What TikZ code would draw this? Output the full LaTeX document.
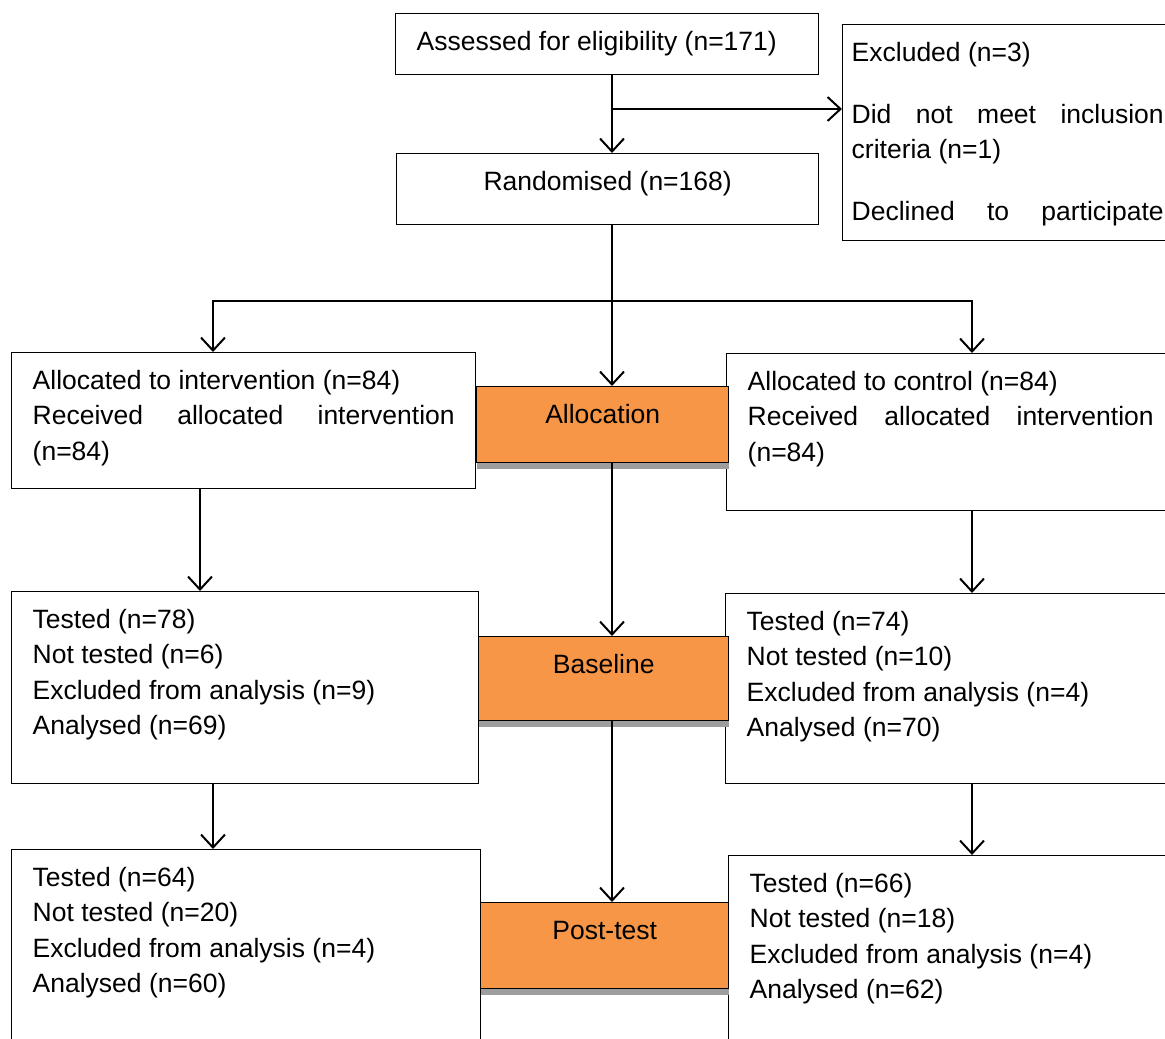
\documentclass[tikz,border=0pt]{standalone}
\usepackage{fontspec}
\setmainfont{Liberation Sans}
\usetikzlibrary{arrows.meta,shadows}
\definecolor{stageorange}{HTML}{F79646}
\newcommand{\boxtxt}[3]{\begin{minipage}[t][#1][t]{#2}\strut#3\end{minipage}}
\newcommand{\spread}[1]{\makebox[\linewidth][s]{#1}}

\begin{document}
\begin{tikzpicture}[x=1pt,y=-1pt,
    font=\fontsize{26.5}{35.3}\selectfont,
    flow/.style={draw, line width=1.4pt, anchor=north west, inner xsep=21pt, inner ysep=12pt, fill=white},
    stage/.style={flow, fill=stageorange, inner xsep=0pt,
      drop shadow={shadow xshift=0pt, shadow yshift=-6pt, fill=black!38, opacity=1}},
    link/.style={line width=2pt, -{Straight Barb[length=13pt,width=24pt]}}]
   \useasboundingbox (0,0) rectangle (1165,1039);
   \clip (0,0) rectangle (1165,1039);

   % top part
   \node[flow] (assess) at (395,13) {\boxtxt{37pt}{381pt}{Assessed for eligibility (n=171)}};
   \node[flow, inner xsep=9pt] (excl) at (842,24) {\boxtxt{192pt}{312pt}{Excluded (n=3)\\[26.7pt]
      \spread{Did not meet inclusion}\\criteria (n=1)\\[26.7pt]\spread{Declined to participate}}};
   \node[flow] (rand) at (396,153) {\boxtxt{47pt}{380pt}{\centering Randomised (n=168)}};

   % intervention side
   \node[flow] (int1) at (11,352) {\boxtxt{112pt}{422pt}{Allocated to intervention (n=84)\\
      \spread{Received allocated intervention}\\(n=84)}};
   \node[flow] (int2) at (11,591) {\boxtxt{168pt}{425pt}{Tested (n=78)\\Not tested (n=6)\\
      Excluded from analysis (n=9)\\Analysed (n=69)}};
   \node[flow] (int3) at (11,849) {\boxtxt{196pt}{427pt}{Tested (n=64)\\Not tested (n=20)\\
      Excluded from analysis (n=4)\\Analysed (n=60)}};

   % control side
   \node[flow] (ctl1) at (726,353) {\boxtxt{133pt}{406pt}{Allocated to control (n=84)\\
      \spread{Received allocated intervention}\\(n=84)}};
   \node[flow] (ctl2) at (725,593) {\boxtxt{166pt}{406pt}{Tested (n=74)\\Not tested (n=10)\\
      Excluded from analysis (n=4)\\Analysed (n=70)}};
   \node[flow] (ctl3) at (728,855) {\boxtxt{200pt}{406pt}{Tested (n=66)\\Not tested (n=18)\\
      Excluded from analysis (n=4)\\Analysed (n=62)}};

   % stages
   \node[stage] (alloc) at (476,386) {\boxtxt{52pt}{252pt}{\centering Allocation}};
   \node[stage] (base) at (478,636) {\boxtxt{60pt}{250pt}{\centering Baseline}};
   \node[stage] (post) at (480,902) {\boxtxt{62pt}{248pt}{\centering Post-test}};

   \coordinate (colM) at (612,0);
   \coordinate (colL) at (213,0);
   \coordinate (colLb) at (200,0);
   \coordinate (colR) at (972,0);
   \coordinate (fork1) at (612,109);
   \coordinate (fork2) at (612,301);

   \draw[link] (assess.south -| colM) -- (rand.north -| colM);
   \draw[link] (fork1) -- (fork1 -| excl.west);
   \draw[link] (rand.south -| colM) -- (alloc.north -| colM);
   \draw[link] (fork2) -| (int1.north -| colL);
   \draw[link] (fork2) -| (ctl1.north -| colR);

   \draw[link] (alloc.south -| colM) -- (base.north -| colM);
   \draw[link] (base.south -| colM) -- (post.north -| colM);
   \draw[link] (int1.south -| colLb) -- (int2.north -| colLb);
   \draw[link] (int2.south -| colL) -- (int3.north -| colL);
   \draw[link] (ctl1.south -| colR) -- (ctl2.north -| colR);
   \draw[link] (ctl2.south -| colR) -- (ctl3.north -| colR);
\end{tikzpicture}
\end{document}
